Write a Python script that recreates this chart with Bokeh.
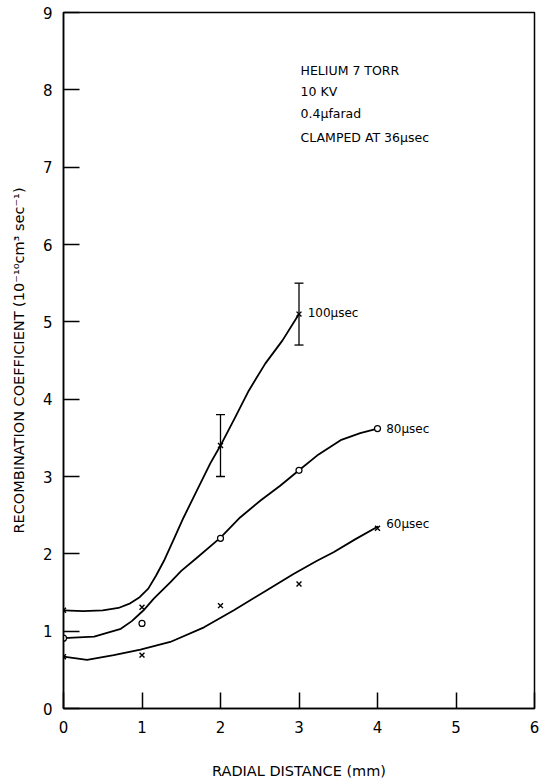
from bokeh.plotting import figure
from bokeh.models import Range1d, FixedTicker, Whisker, ColumnDataSource, TeeHead
from bokeh.core.properties import value
from bokeh.embed import file_html
from bokeh.resources import INLINE

FONT = "DejaVu Sans"

# Data
x_ticks = [0, 1, 2, 3, 4, 5, 6]
y_ticks = [0, 1, 2, 3, 4, 5, 6, 7, 8, 9]

pts100_x = [0, 1, 2, 3]
pts100_y = [1.27, 1.31, 3.40, 5.10]
err100_x = [2, 3]
err100_lo = [3.0, 4.7]
err100_hi = [3.8, 5.5]

pts80_x = [0, 1, 2, 3, 4]
pts80_y = [0.91, 1.10, 2.20, 3.08, 3.62]

pts60_x = [0, 1, 2, 3, 4]
pts60_y = [0.67, 0.69, 1.33, 1.61, 2.33]

# Hand-drawn fitted curves
curve100_x = [0, 0.25, 0.5, 0.7, 0.85, 0.97, 1.08, 1.18, 1.28, 1.41, 1.53, 1.70, 1.87,
              2.0, 2.19, 2.36, 2.57, 2.79, 3.0]
curve100_y = [1.27, 1.26, 1.27, 1.30, 1.36, 1.44, 1.55, 1.72, 1.91, 2.20, 2.47, 2.82, 3.17,
              3.40, 3.77, 4.11, 4.46, 4.76, 5.10]

curve80_x = [0, 0.39, 0.73, 0.87, 1.02, 1.15, 1.36, 1.50, 1.70, 2.0, 2.25, 2.51, 2.76,
             3.0, 3.23, 3.53, 3.78, 4.0]
curve80_y = [0.91, 0.93, 1.03, 1.13, 1.27, 1.42, 1.63, 1.78, 1.95, 2.21, 2.47, 2.69, 2.88,
             3.08, 3.27, 3.47, 3.56, 3.62]

curve60_x = [0, 0.30, 0.64, 0.98, 1.36, 1.79, 2.17, 2.59, 2.93, 3.23, 3.44, 3.72, 4.0]
curve60_y = [0.67, 0.63, 0.69, 0.76, 0.86, 1.05, 1.27, 1.53, 1.74, 1.91, 2.02, 2.19, 2.35]

series_labels = ["100\u03bcsec", "80\u03bcsec", "60\u03bcsec"]
series_label_x = [3.11, 4.11, 4.11]
series_label_y = [5.11, 3.61, 2.38]

note_lines = ["HELIUM  7  TORR", "10 KV", "0.4\u03bcfarad", "CLAMPED  AT  36\u03bcsec"]
note_x = [3.02, 3.02, 3.02, 3.02]
note_y = [8.25, 7.98, 7.70, 7.39]

p = figure(width=539, height=782, output_backend="svg", toolbar_location=None,
           x_range=Range1d(0, 6), y_range=Range1d(0, 9),
           min_border_left=63, min_border_right=5, min_border_top=12, min_border_bottom=74)
p.background_fill_color = "white"
p.border_fill_color = "white"
p.outline_line_color = "black"
p.outline_line_width = 1.5
p.grid.visible = False

for ax in (p.xaxis[0], p.yaxis[0]):
    ax.axis_line_width = 1.5
    ax.major_tick_line_width = 1.5
    ax.major_tick_in = 16
    ax.major_tick_out = 0
    ax.minor_tick_in = 0
    ax.minor_tick_out = 0
    ax.major_label_text_font = FONT
    ax.major_label_text_font_size = "15px"
    ax.major_label_text_color = "black"
    ax.axis_label_text_font = FONT
    ax.axis_label_text_font_style = "normal"
    ax.axis_label_text_font_size = "14.5px"
    ax.axis_label_text_color = "black"

p.xaxis.ticker = FixedTicker(ticks=x_ticks)
p.yaxis.ticker = FixedTicker(ticks=y_ticks)
p.xaxis.major_label_standoff = 12
p.yaxis.major_label_standoff = 11
p.xaxis.axis_label = "RADIAL DISTANCE (mm)"
p.xaxis.axis_label_standoff = 27
p.yaxis.axis_label = "RECOMBINATION COEFFICIENT (10\u207b\u00b9\u2070cm\u00b3 sec\u207b\u00b9)"
p.yaxis.axis_label_standoff = 13

# curves
for cx, cy in ((curve100_x, curve100_y), (curve80_x, curve80_y), (curve60_x, curve60_y)):
    p.line(cx, cy, line_color="black", line_width=1.8, line_join="round", line_cap="round")

# markers
p.scatter(pts100_x, pts100_y, marker="x", size=7, line_color="black", line_width=1.4)
p.scatter(pts60_x, pts60_y, marker="x", size=7, line_color="black", line_width=1.4)
p.scatter(pts80_x, pts80_y, marker="circle", size=6, line_color="black",
          fill_color="white", line_width=1.2)

# error bars
src = ColumnDataSource(dict(x=err100_x, lo=err100_lo, hi=err100_hi))
w = Whisker(base="x", lower="lo", upper="hi", source=src, line_color="black", line_width=1.3,
            upper_head=TeeHead(size=9, line_color="black", line_width=1.3),
            lower_head=TeeHead(size=9, line_color="black", line_width=1.3))
p.add_layout(w)

# series labels
p.text(series_label_x, series_label_y, text=series_labels, text_font=value(FONT),
       text_font_size="12px", text_baseline="middle", text_align="left", text_color="black")

# notes
p.text(note_x, note_y, text=note_lines, text_font=value(FONT),
       text_font_size="12.5px", text_baseline="middle", text_align="left", text_color="black")

open("out.html", "w").write(file_html(p, INLINE))
